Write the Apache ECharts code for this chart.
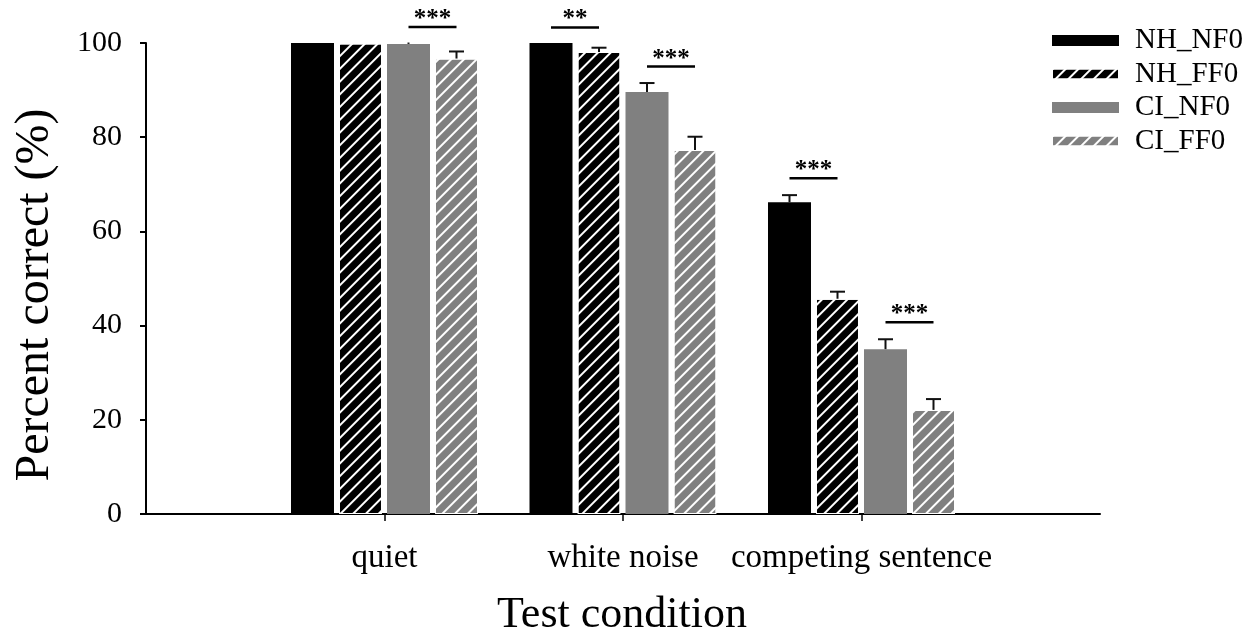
<!DOCTYPE html>
<html>
<head>
<meta charset="utf-8">
<script src="https://cdn.jsdelivr.net/npm/echarts@6/dist/echarts.min.js"></script>
<style>
  html, body { margin: 0; padding: 0; background: #fff; }
  #chart { width: 1247px; height: 634px; }
</style>
</head>
<body>
<div id="chart"></div>
<script>
// Speech recognition scores per test condition (mean percent correct and SE)
const categories = ['quiet', 'white noise', 'competing sentence'];
const seriesNames = ['NH_NF0', 'NH_FF0', 'CI_NF0', 'CI_FF0'];
const nhNF0 = [100, 100, 66.2];
const nhFF0 = [99.9, 98.1, 45.7];
const ciNF0 = [99.8, 89.6, 35.0];
const ciFF0 = [96.7, 77.3, 22.1];
const nhNF0Err = [0, 0, 1.5];
const nhFF0Err = [0, 0.9, 1.5];
const ciNF0Err = [0.3, 1.9, 2.1];
const ciFF0Err = [1.5, 2.8, 2.3];
// Significance brackets: category, the two compared groups, bracket height, label
const sigCategory = [0, 1, 1, 2, 2];
const sigFrom = [2, 0, 2, 0, 2];
const sigTo = [3, 1, 3, 1, 3];
const sigLevel = [103.4, 103.3, 95.0, 71.3, 40.7];
const sigLabel = ['***', '**', '***', '***', '***'];
const yTicks = [0, 20, 40, 60, 80, 100];

const values = [nhNF0, nhFF0, ciNF0, ciFF0];
const errors = [nhNF0Err, nhFF0Err, ciNF0Err, ciFF0Err];

const FONT = "'Liberation Serif', 'Times New Roman', serif";
const BAR_WIDTH = 43;
const BAR_GAP = 5;
const fills = ['#000000', '#000000', '#808080', '#808080'];
const hatched = [false, true, false, true];
// horizontal offset of each group's bar from the category centre
const barOffset = i => (i - (seriesNames.length - 1) / 2) * (BAR_WIDTH + BAR_GAP);

// axis slots: empty margins on both sides of the three conditions
const axisCats = [''].concat(categories, ['']);

const hatch = color => ({
  symbol: 'rect',
  symbolSize: 1,
  color: color,
  dashArrayX: [1, 0],
  dashArrayY: [1.6, 6.9],
  rotation: -Math.PI / 4
});

const barSeries = seriesNames.map((name, s) => ({
  name: name,
  type: 'bar',
  barWidth: BAR_WIDTH,
  barGap: (BAR_GAP / BAR_WIDTH * 100).toFixed(2) + '%',
  itemStyle: Object.assign(
    { color: fills[s] },
    hatched[s] ? { decal: hatch('#ffffff'), borderColor: '#ffffff', borderWidth: 1 } : {}
  ),
  emphasis: { disabled: true },
  data: values[s].map((v, c) => [c + 1, v]),
  z: 2
}));

// error bars: [category slot, group, mean, error]
const errData = [];
values.forEach((arr, s) => arr.forEach((v, c) => errData.push([c + 1, s, v, errors[s][c]])));

const errorSeries = {
  type: 'custom',
  name: 'error',
  data: errData,
  z: 3,
  renderItem: (params, api) => {
    const s = api.value(1);
    const base = api.coord([api.value(0), api.value(2)]);
    const top = api.coord([api.value(0), api.value(2) + api.value(3)]);
    const x = base[0] + barOffset(s);
    const style = { stroke: '#111', lineWidth: 2 };
    const children = [{
      type: 'line',
      shape: { x1: x, y1: base[1], x2: x, y2: top[1] },
      style: style
    }];
    if (api.value(3) >= 0.5) {
      children.push({
        type: 'line',
        shape: { x1: x - 7.5, y1: top[1], x2: x + 7.5, y2: top[1] },
        style: style
      });
    }
    return { type: 'group', children: children };
  }
};

const sigData = sigCategory.map((c, i) => [c + 1, sigFrom[i], sigTo[i], sigLevel[i]]);

const sigSeries = {
  type: 'custom',
  name: 'significance',
  data: sigData,
  z: 4,
  renderItem: (params, api) => {
    const p = api.coord([api.value(0), api.value(3)]);
    const x1 = p[0] + barOffset(api.value(1));
    const x2 = p[0] + barOffset(api.value(2));
    return {
      type: 'group',
      children: [
        {
          type: 'line',
          shape: { x1: x1, y1: p[1], x2: x2, y2: p[1] },
          style: { stroke: '#000', lineWidth: 2.5 }
        },
        {
          type: 'text',
          x: (x1 + x2) / 2,
          y: p[1] + 5,
          style: {
            text: sigLabel[params.dataIndex],
            fill: '#000',
            font: 'bold 25px ' + FONT,
            textAlign: 'center',
            textVerticalAlign: 'bottom'
          }
        }
      ]
    };
  }
};

const chart = echarts.init(document.getElementById('chart'));
chart.setOption({
  animation: false,
  backgroundColor: '#fff',
  grid: { left: 146, right: 147, top: 43, bottom: 120, containLabel: false },
  legend: {
    data: seriesNames,
    orient: 'vertical',
    left: 1051,
    top: 26,
    padding: 0,
    icon: 'rect',
    itemWidth: 67,
    itemHeight: 11,
    itemGap: 4.5,
    selectedMode: false,
    textStyle: { fontFamily: FONT, fontSize: 29, color: '#000', lineHeight: 28, padding: [0, 0, 0, 11] }
  },
  xAxis: {
    type: 'category',
    data: axisCats,
    boundaryGap: false,
    axisLine: { lineStyle: { color: '#000', width: 2 } },
    axisTick: {
      length: 7,
      lineStyle: { color: '#000', width: 1.5 },
      interval: idx => idx > 0 && idx < axisCats.length - 1
    },
    axisLabel: { interval: 0, color: '#000', fontFamily: FONT, fontSize: 33, margin: 28 },
    splitLine: { show: false }
  },
  yAxis: {
    type: 'value',
    min: yTicks[0],
    max: yTicks[yTicks.length - 1],
    interval: yTicks[1] - yTicks[0],
    axisLine: { show: true, lineStyle: { color: '#000', width: 2 } },
    axisTick: { show: true, length: 6, lineStyle: { color: '#000', width: 2 } },
    axisLabel: { color: '#000', fontFamily: FONT, fontSize: 30, margin: 24 },
    splitLine: { show: false }
  },
  graphic: [
    {
      type: 'text',
      x: 35,
      y: 295,
      rotation: Math.PI / 2,
      style: {
        text: 'Percent correct (%)',
        font: '48px ' + FONT,
        fill: '#000',
        textAlign: 'center',
        textVerticalAlign: 'middle'
      }
    },
    {
      type: 'text',
      x: 622,
      y: 615,
      style: {
        text: 'Test condition',
        font: '44px ' + FONT,
        fill: '#000',
        textAlign: 'center',
        textVerticalAlign: 'middle'
      }
    }
  ],
  series: barSeries.concat([errorSeries, sigSeries])
});
</script>
</body>
</html>
